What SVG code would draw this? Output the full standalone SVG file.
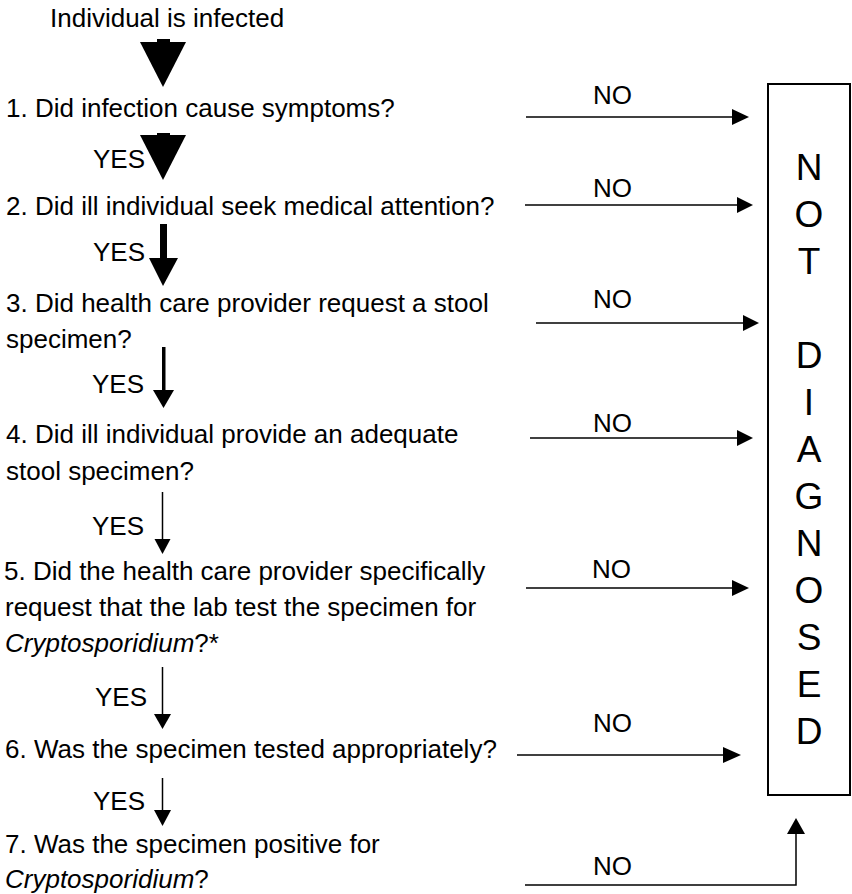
<svg xmlns="http://www.w3.org/2000/svg" width="852" height="894" viewBox="0 0 852 894">
  <style>
    text { font-family: "Liberation Sans", Arial, Helvetica, sans-serif; fill: #000; }
    .q { font-size: 26px; }
    .lbl { font-size: 26px; }
    .big { font-size: 37px; text-anchor: middle; }
    .it { font-style: italic; }
    .ln { stroke: #000; stroke-width: 1.5; fill: none; }
    .hd { fill: #000; stroke: none; }
    .box { fill: #fff; stroke: #000; stroke-width: 2; }
  </style>

  <rect width="852" height="894" fill="#fff"/>

  <!-- Start -->
  <g id="start">
    <text class="q" x="50" y="27">Individual is infected</text>
  </g>

  <!-- Questions -->
  <g id="q1">
    <text class="q" x="6" y="117">1. Did infection cause symptoms?</text>
  </g>
  <g id="q2">
    <text class="q" x="6" y="215">2. Did ill individual seek medical attention?</text>
  </g>
  <g id="q3">
    <text class="q" x="6" y="312">3. Did health care provider request a stool</text>
    <text class="q" x="6" y="348">specimen?</text>
  </g>
  <g id="q4">
    <text class="q" x="6" y="443">4. Did ill individual provide an adequate</text>
    <text class="q" x="6" y="480">stool specimen?</text>
  </g>
  <g id="q5">
    <text class="q" x="4" y="580">5. Did the health care provider specifically</text>
    <text class="q" x="5" y="616">request that the lab test the specimen for</text>
    <text class="q" x="5" y="652"><tspan class="it">Cryptosporidium</tspan>?*</text>
  </g>
  <g id="q6">
    <text class="q" x="5" y="758">6. Was the specimen tested appropriately?</text>
  </g>
  <g id="q7">
    <text class="q" x="5" y="853">7. Was the specimen positive for</text>
    <text class="q" x="5" y="888"><tspan class="it">Cryptosporidium</tspan>?</text>
  </g>

  <!-- Outcome box -->
  <g id="not-diagnosed">
    <rect class="box" x="768" y="84" width="82" height="711"/>
    <text class="big" x="809" y="180">N</text>
    <text class="big" x="809" y="227">O</text>
    <text class="big" x="809" y="274">T</text>
    <text class="big" x="809" y="368">D</text>
    <text class="big" x="809" y="415">I</text>
    <text class="big" x="809" y="462">A</text>
    <text class="big" x="809" y="509">G</text>
    <text class="big" x="809" y="556">N</text>
    <text class="big" x="809" y="603">O</text>
    <text class="big" x="809" y="650">S</text>
    <text class="big" x="809" y="697">E</text>
    <text class="big" x="809" y="744">D</text>
  </g>

  <!-- Connectors -->
  <g id="connectors">
    <!-- YES arrows, narrowing down the chain -->
    <g id="yes-arrows">
      <rect class="hd" x="157" y="39" width="13" height="4"/>
      <polygon class="hd" points="140,42 186,42 163,87"/>

      <rect class="hd" x="157" y="133" width="13" height="3"/>
      <polygon class="hd" points="140,135 186,135 163,180"/>

      <rect class="hd" x="160" y="224" width="7" height="35"/>
      <polygon class="hd" points="149,258 178,258 163,286"/>

      <rect class="hd" x="162" y="347" width="3.5" height="44"/>
      <polygon class="hd" points="153,390 174,390 163.5,408"/>

      <line class="ln" x1="162.5" y1="492" x2="162.5" y2="540"/>
      <polygon class="hd" points="154.5,539 170.5,539 162.5,554"/>

      <line class="ln" x1="162.5" y1="667" x2="162.5" y2="715"/>
      <polygon class="hd" points="154,714 171,714 162.5,729"/>

      <line class="ln" x1="162.5" y1="778" x2="162.5" y2="811"/>
      <polygon class="hd" points="154,810 171,810 162.5,826"/>
    </g>

    <!-- NO arrows into the outcome box -->
    <g id="no-arrows">
      <line class="ln" x1="526" y1="117" x2="733" y2="117"/>
      <polygon class="hd" points="732,109 749,117 732,125"/>

      <line class="ln" x1="525" y1="205" x2="738" y2="205"/>
      <polygon class="hd" points="737,197 753,205 737,213"/>

      <line class="ln" x1="536" y1="323" x2="744" y2="323"/>
      <polygon class="hd" points="743,315 759,323 743,331"/>

      <line class="ln" x1="530" y1="438" x2="738" y2="438"/>
      <polygon class="hd" points="737,430 753,438 737,446"/>

      <line class="ln" x1="526" y1="588" x2="733" y2="588"/>
      <polygon class="hd" points="732,580 749,588 732,596"/>

      <line class="ln" x1="517" y1="755" x2="724" y2="755"/>
      <polygon class="hd" points="723,747 741,755 723,763"/>

      <polyline class="ln" points="525,885 796,885 796,833"/>
      <polygon class="hd" points="787,834 805,834 796,818"/>
    </g>

    <text class="lbl" x="93" y="168">YES</text>
    <text class="lbl" x="93" y="261">YES</text>
    <text class="lbl" x="92" y="393">YES</text>
    <text class="lbl" x="92" y="535">YES</text>
    <text class="lbl" x="95" y="706">YES</text>
    <text class="lbl" x="93" y="810">YES</text>

    <text class="lbl" x="593" y="104">NO</text>
    <text class="lbl" x="593" y="197">NO</text>
    <text class="lbl" x="593" y="308">NO</text>
    <text class="lbl" x="593" y="432">NO</text>
    <text class="lbl" x="592" y="578">NO</text>
    <text class="lbl" x="593" y="732">NO</text>
    <text class="lbl" x="593" y="875">NO</text>
  </g>
</svg>
